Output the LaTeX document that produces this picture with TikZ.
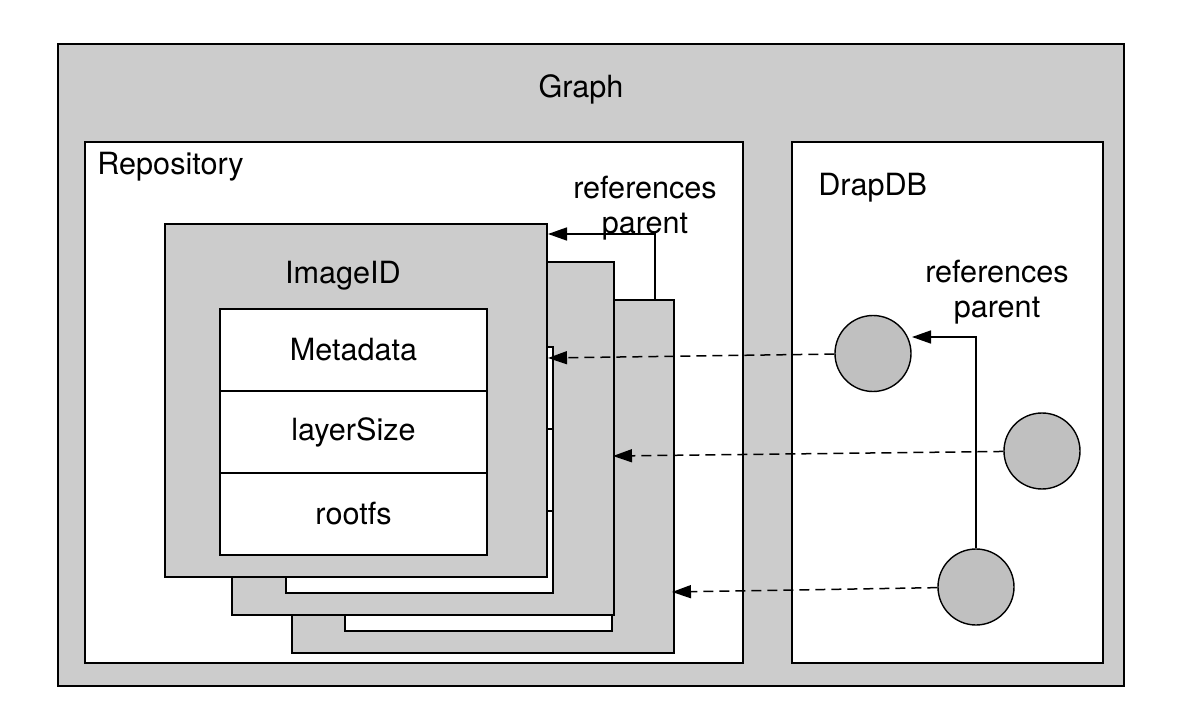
\documentclass[tikz,border=0pt]{standalone}
\usepackage{fontspec}
\setmainfont{TeX Gyre Heros}
\usetikzlibrary{positioning}
\usetikzlibrary{arrows.meta}
\definecolor{boxgray}{RGB}{204, 204, 204}
\definecolor{layergray}{RGB}{192, 192, 192}
\tikzset{
  panel/.style   = {draw, line width=0.9pt, inner sep=0pt, anchor=north west},
  graphbox/.style = {panel, fill=boxgray, minimum width=533pt, minimum height=321pt},
  store/.style   = {panel, fill=white, minimum height=260.5pt},
  card/.style    = {panel, fill=boxgray, minimum width=191pt, minimum height=176.5pt},
  field/.style   = {draw, line width=0.9pt, fill=white, inner sep=0pt, outer sep=0pt,
                    minimum width=133.5pt, minimum height=41pt},
  layer/.style   = {circle, draw, line width=0.7pt, fill=layergray,
                    minimum size=38pt, inner sep=0pt},
  heading/.style = {inner sep=0pt, align=center},
  parentref/.style = {line width=0.8pt, -{Triangle[length=9.5pt, width=6.5pt]}},
  layerref/.style  = {parentref, line width=0.75pt, dash pattern=on 5pt off 3pt}
}

\begin{document}
\begin{tikzpicture}[x=0.5pt, y=-0.5pt, font=\fontsize{15.3}{17.5}\selectfont]
  \useasboundingbox (0,0) rectangle (1196,722);
  % outer boxes
  \node [graphbox] (graph) at (57,43) {};
  \node [heading] at (581,89) {Graph};
  \node [store, minimum width=329pt] (repo) at (84,141) {};
  \node [heading, anchor=west] at (97,167) {Repository};
  \node [store, minimum width=155.5pt] (drapdb) at (791,141) {};
  \node [heading, anchor=west] at (818,188) {DrapDB};
  % stacked images, back to front
  \node [card] (card3) at (291,299) {};
  \node [field, below right=43pt and 27pt of card3.north west] (meta3) {};
  \node [field, below=0pt of meta3] (size3) {};
  \node [field, below=0pt of size3] (fs3) {};
  \node [card] (card2) at (231,261) {};
  \node [field, below right=43pt and 27.5pt of card2.north west] (meta2) {};
  \node [field, below=0pt of meta2] (size2) {};
  \node [field, below=0pt of size2] (fs2) {};
  \node [card] (card1) at (164,223) {};
  \node [heading] at (343,276) {ImageID};
  \node [field, below right=43pt and 28pt of card1.north west] (meta1) {Metadata};
  \node [field, below=0pt of meta1] (size1) {layerSize};
  \node [field, below=0pt of size1] (fs1) {rootfs};
  % layers
  \node [layer] (l1) at (873,353.5) {};
  \node [layer] (l2) at (1042,451) {};
  \node [layer] (l3) at (976,587) {};
  \coordinate (p3) at (655,299);
  \coordinate (t0) at (548,234);
  \coordinate (t1) at (548,358);
  \coordinate (t2) at (613,456);
  \coordinate (t3) at (672,592);
  \coordinate (tl) at (912,337);
  \draw [parentref] (p3) |- (t0);
  \node [heading] at (645,208) {references\\parent};
  \draw [parentref] (l3.north) |- (tl);
  \node [heading] at (997,292.5) {references\\parent};
  \draw [layerref] (l1) -- (t1);
  \draw [layerref] (l2) -- (t2);
  \draw [layerref] (l3) -- (t3);
\end{tikzpicture}
\end{document}
